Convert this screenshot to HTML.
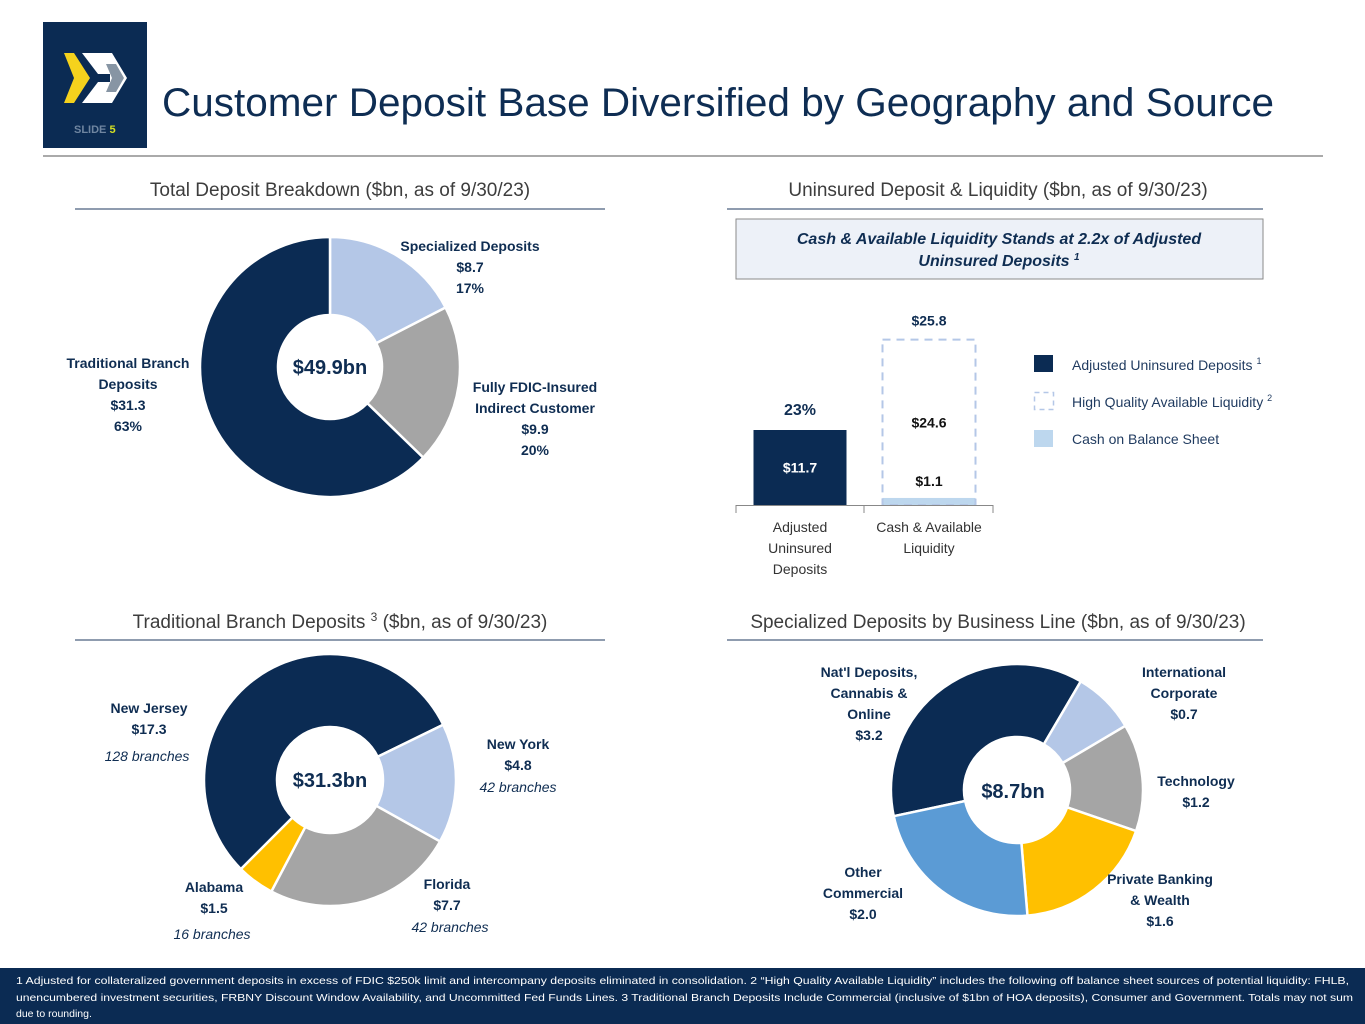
<!DOCTYPE html>
<html><head><meta charset="utf-8"><style>
html,body{margin:0;padding:0;background:#fff;}
svg{display:block;font-family:"Liberation Sans",sans-serif;}
.b{font-weight:bold;fill:#0f2d52;font-size:14px;}
.h{font-size:19px;fill:#3d3d3d;}
</style></head><body>
<svg id="s" width="1365" height="1024" viewBox="0 0 1365 1024">
<rect x="43" y="22" width="104" height="126" fill="#0b2b53"/>
<g>
<polygon points="64,53 74,53 90,78 74,103 64,103 74,78" fill="#f5d21d"/>
<polygon points="82,53 112,53 127,78 112,103 82,103 98,82 110,82 110,74 98,74" fill="#fff"/>
<polygon points="106,64 116,64 124,78 116,92 106,92 112,78" fill="#8795a4"/>
</g>
<text x="74" y="133" font-size="11" font-weight="bold" fill="#6f85a0">SLIDE <tspan fill="#d4e022">5</tspan></text>
<text x="162" y="116" font-size="40" fill="#0e2d53" textLength="1112" lengthAdjust="spacingAndGlyphs">Customer Deposit Base Diversified by Geography and Source</text>
<line x1="43" y1="156" x2="1323" y2="156" stroke="#555" stroke-width="1"/>

<text x="340" y="196" class="h" text-anchor="middle">Total Deposit Breakdown ($bn, as of 9/30/23)</text>
<line x1="75" y1="209" x2="605" y2="209" stroke="#1f3a5f"/>
<text x="998" y="196" class="h" text-anchor="middle">Uninsured Deposit &amp; Liquidity ($bn, as of 9/30/23)</text>
<line x1="727" y1="209" x2="1263" y2="209" stroke="#1f3a5f"/>
<text x="340" y="628" class="h" text-anchor="middle">Traditional Branch Deposits <tspan font-size="12" dy="-7">3</tspan><tspan dy="7"> ($bn, as of 9/30/23)</tspan></text>
<line x1="75" y1="640" x2="605" y2="640" stroke="#1f3a5f"/>
<text x="998" y="628" class="h" text-anchor="middle">Specialized Deposits by Business Line ($bn, as of 9/30/23)</text>
<line x1="727" y1="640" x2="1263" y2="640" stroke="#1f3a5f"/>

<rect x="736" y="219" width="527" height="60" fill="#edf1f8" stroke="#8a8a8a"/>
<text x="999" y="244" text-anchor="middle" font-size="16" font-weight="bold" font-style="italic" fill="#0f2d52">Cash &amp; Available Liquidity Stands at 2.2x of Adjusted</text>
<text x="999" y="266" text-anchor="middle" font-size="16" font-weight="bold" font-style="italic" fill="#0f2d52">Uninsured Deposits <tspan font-size="10" dy="-6">1</tspan></text>

<g id="d1"></g><g id="d2"></g><g id="d3"></g><g id="bars"></g>

<g>
<text x="470" y="251" class="b" text-anchor="middle">Specialized Deposits</text>
<text x="470" y="272" class="b" text-anchor="middle">$8.7</text>
<text x="470" y="293" class="b" text-anchor="middle">17%</text>
<text x="535" y="392" class="b" text-anchor="middle">Fully FDIC-Insured</text>
<text x="535" y="413" class="b" text-anchor="middle">Indirect Customer</text>
<text x="535" y="434" class="b" text-anchor="middle">$9.9</text>
<text x="535" y="455" class="b" text-anchor="middle">20%</text>
<text x="128" y="368" class="b" text-anchor="middle">Traditional Branch</text>
<text x="128" y="389" class="b" text-anchor="middle">Deposits</text>
<text x="128" y="410" class="b" text-anchor="middle">$31.3</text>
<text x="128" y="431" class="b" text-anchor="middle">63%</text>
<text x="330" y="374" text-anchor="middle" font-size="20" font-weight="bold" fill="#0f2d52">$49.9bn</text>
</g>
<g>
<text x="149" y="713" class="b" text-anchor="middle">New Jersey</text>
<text x="149" y="734" class="b" text-anchor="middle">$17.3</text>
<text x="147" y="761" text-anchor="middle" font-size="14" font-style="italic" fill="#0f2d52">128 branches</text>
<text x="518" y="749" class="b" text-anchor="middle">New York</text>
<text x="518" y="770" class="b" text-anchor="middle">$4.8</text>
<text x="518" y="792" text-anchor="middle" font-size="14" font-style="italic" fill="#0f2d52">42 branches</text>
<text x="447" y="889" class="b" text-anchor="middle">Florida</text>
<text x="447" y="910" class="b" text-anchor="middle">$7.7</text>
<text x="450" y="932" text-anchor="middle" font-size="14" font-style="italic" fill="#0f2d52">42 branches</text>
<text x="214" y="892" class="b" text-anchor="middle">Alabama</text>
<text x="214" y="913" class="b" text-anchor="middle">$1.5</text>
<text x="212" y="939" text-anchor="middle" font-size="14" font-style="italic" fill="#0f2d52">16 branches</text>
<text x="330" y="787" text-anchor="middle" font-size="20" font-weight="bold" fill="#0f2d52">$31.3bn</text>
</g>
<g>
<text x="869" y="677" class="b" text-anchor="middle">Nat'l Deposits,</text>
<text x="869" y="698" class="b" text-anchor="middle">Cannabis &amp;</text>
<text x="869" y="719" class="b" text-anchor="middle">Online</text>
<text x="869" y="740" class="b" text-anchor="middle">$3.2</text>
<text x="1184" y="677" class="b" text-anchor="middle">International</text>
<text x="1184" y="698" class="b" text-anchor="middle">Corporate</text>
<text x="1184" y="719" class="b" text-anchor="middle">$0.7</text>
<text x="1196" y="786" class="b" text-anchor="middle">Technology</text>
<text x="1196" y="807" class="b" text-anchor="middle">$1.2</text>
<text x="1160" y="884" class="b" text-anchor="middle">Private Banking</text>
<text x="1160" y="905" class="b" text-anchor="middle">&amp; Wealth</text>
<text x="1160" y="926" class="b" text-anchor="middle">$1.6</text>
<text x="863" y="877" class="b" text-anchor="middle">Other</text>
<text x="863" y="898" class="b" text-anchor="middle">Commercial</text>
<text x="863" y="919" class="b" text-anchor="middle">$2.0</text>
<text x="1013" y="798" text-anchor="middle" font-size="20" font-weight="bold" fill="#0f2d52">$8.7bn</text>
</g>

<g>
<rect x="1034" y="355" width="19" height="17" fill="#0b2b53"/>
<text x="1072" y="370" font-size="14" fill="#1f3a5f">Adjusted Uninsured Deposits <tspan font-size="9" dy="-6">1</tspan></text>
<rect x="1034.5" y="392.5" width="19" height="17" fill="none" stroke="#b4c7e7" stroke-dasharray="5,4" stroke-width="1.5"/>
<text x="1072" y="407" font-size="14" fill="#1f3a5f">High Quality Available Liquidity <tspan font-size="9" dy="-6">2</tspan></text>
<rect x="1034" y="430" width="19" height="17" fill="#bdd7ee"/>
<text x="1072" y="444" font-size="14" fill="#1f3a5f">Cash on Balance Sheet</text>
</g>

<rect x="0" y="968" width="1365" height="56" fill="#0b2b53"/>
<g font-size="10.5" fill="#fff">
<text x="16" y="984" textLength="1333" lengthAdjust="spacingAndGlyphs">1 Adjusted for collateralized government deposits in excess of FDIC $250k limit and intercompany deposits eliminated in consolidation. 2 “High Quality Available Liquidity” includes the following off balance sheet sources of potential liquidity: FHLB,</text>
<text x="16" y="1001" textLength="1337" lengthAdjust="spacingAndGlyphs">unencumbered investment securities, FRBNY Discount Window Availability, and Uncommitted Fed Funds Lines.  3 Traditional Branch Deposits Include Commercial (inclusive of $1bn of HOA deposits), Consumer and Government.  Totals may not sum</text>
<text x="16" y="1017">due to rounding.</text>
</g>
</svg>
<script>
const d1Values=[8.7,9.9,31.3];
const d1Names=["specialized","fdic-insured","traditional-branch"];
const d1Colors=["#b4c7e7","#a5a5a5","#0b2b53"];
const d2Values=[17.3,4.8,7.7,1.5];
const d2Names=["new-jersey","new-york","florida","alabama"];
const d2Colors=["#0b2b53","#b4c7e7","#a5a5a5","#ffc000"];
const d3Values=[3.2,0.7,1.2,1.6,2.0];
const d3Names=["national-deposits","international-corporate","technology","private-banking","other-commercial"];
const d3Colors=["#0b2b53","#b4c7e7","#a5a5a5","#ffc000","#5b9bd5"];
const barCats=["Adjusted Uninsured Deposits","Cash & Available Liquidity"];
const uninsured=[11.7];
const cashBS=[1.1];
const hqLiquidity=[24.6];
const totalLiquidity=[25.8];
const uninsuredPct=[23];
const NS="http://www.w3.org/2000/svg";
function el(t,a,p){const e=document.createElementNS(NS,t);for(const k in a)e.setAttribute(k,a[k]);p.appendChild(e);return e;}
function pt(cx,cy,r,deg){const a=(deg-90)*Math.PI/180;return [cx+r*Math.cos(a),cy+r*Math.sin(a)];}
function donut(g,vals,names,cols,cx,cy,ro,ri,start){
  const tot=vals.reduce((a,b)=>a+b,0);let a0=start;
  vals.forEach((v,i)=>{const a1=a0+v/tot*360;const L=(a1-a0)>180?1:0;
    const p1=pt(cx,cy,ro,a0),p2=pt(cx,cy,ro,a1),p3=pt(cx,cy,ri,a1),p4=pt(cx,cy,ri,a0);
    const p=el('path',{d:`M${p1} A${ro},${ro} 0 ${L} 1 ${p2} L${p3} A${ri},${ri} 0 ${L} 0 ${p4}Z`,fill:cols[i],stroke:'#fff','stroke-width':2.5},g);
    
    
    a0=a1;});
}
donut(document.getElementById('d1'),d1Values,d1Names,d1Colors,330,367,130,52,0);
donut(document.getElementById('d2'),d2Values,d2Names,d2Colors,330,780,126,53,225);
donut(document.getElementById('d3'),d3Values,d3Names,d3Colors,1017,790,126,53,258);
const g=document.getElementById('bars');
const base=505,scale=6.41,xc=[800,929],bw=93;
const y=v=>base-v*scale;
let r=el('rect',{x:xc[0]-bw/2,y:y(uninsured[0]),width:bw,height:uninsured[0]*scale,fill:'#0b2b53'},g);


let t=el('text',{x:xc[0],y:y(uninsured[0]/2)+5,'text-anchor':'middle','font-size':14,'font-weight':'bold',fill:'#fff'},g);t.textContent='$'+uninsured[0].toFixed(1);


const total=totalLiquidity[0];
t=el('text',{x:xc[0],y:y(uninsured[0])-15,'text-anchor':'middle','font-size':16,'font-weight':'bold',fill:'#0f2d52'},g);t.textContent=uninsuredPct[0]+'%';


r=el('rect',{x:xc[1]-bw/2,y:y(cashBS[0]),width:bw,height:cashBS[0]*scale,fill:'#bdd7ee'},g);


r=el('rect',{x:xc[1]-bw/2,y:y(total),width:bw,height:total*scale,fill:'none',stroke:'#b4c7e7','stroke-width':2,'stroke-dasharray':'8,6'},g);


t=el('text',{x:xc[1],y:y(total)-14,'text-anchor':'middle','font-size':14,'font-weight':'bold',fill:'#0f2d52'},g);t.textContent='$'+total.toFixed(1);


t=el('text',{x:xc[1],y:y(total*0.47),'text-anchor':'middle','font-size':14,'font-weight':'bold',fill:'#111'},g);t.textContent='$'+hqLiquidity[0].toFixed(1);


t=el('text',{x:xc[1],y:base-19,'text-anchor':'middle','font-size':14,'font-weight':'bold',fill:'#111'},g);t.textContent='$'+cashBS[0].toFixed(1);


const ax=el('path',{d:`M736,${base+0.5}H993 M736,${base}v8 M864,${base}v8 M993,${base}v8`,stroke:'#888',fill:'none'},g);


const catLines=[["Adjusted","Uninsured","Deposits"],["Cash & Available","Liquidity"]];
catLines.forEach((ls,i)=>ls.forEach((s,j)=>{const tt=el('text',{x:xc[i],y:532+j*21,'text-anchor':'middle','font-size':14,fill:'#333'},g);tt.textContent=s;

}));
</script>
</body></html>
